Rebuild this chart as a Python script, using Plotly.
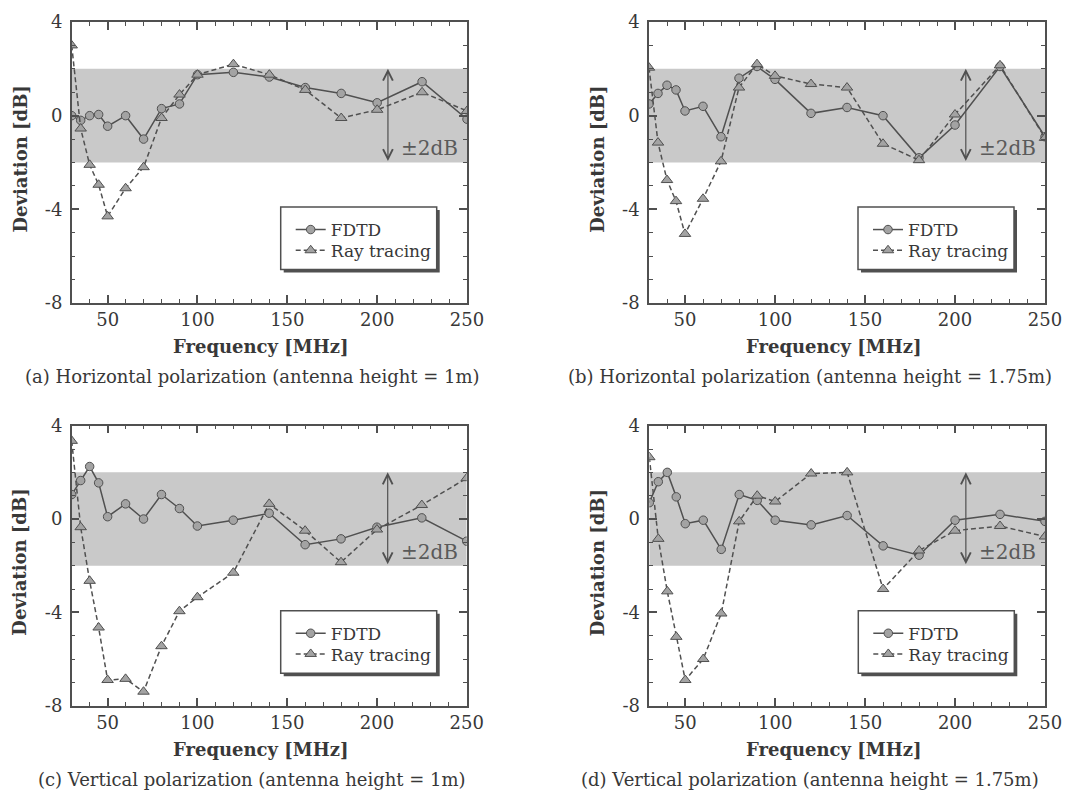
import plotly.graph_objects as go
from plotly.subplots import make_subplots

# ---------------- data ----------------
freq = [30, 35, 40, 45, 50, 60, 70, 80, 90, 100, 120, 140, 160, 180, 200, 225, 250]

fdtd_a = [0.0, -0.2, 0.0, 0.05, -0.45, 0.0, -1.0, 0.3, 0.5, 1.75, 1.85, 1.65, 1.2, 0.95, 0.55, 1.45, -0.15]
ray_a = [3.0, -0.55, -2.1, -2.95, -4.3, -3.1, -2.2, -0.1, 0.9, 1.75, 2.2, 1.75, 1.1, -0.1, 0.25, 1.0, 0.2]

fdtd_b = [0.5, 0.95, 1.3, 1.1, 0.2, 0.4, -0.9, 1.6, 2.1, 1.55, 0.1, 0.35, 0.0, -1.8, -0.4, 2.1, -0.9]
ray_b = [2.05, -1.15, -2.75, -3.65, -5.05, -3.55, -1.95, 1.2, 2.2, 1.7, 1.35, 1.2, -1.2, -1.9, 0.05, 2.15, -0.95]

fdtd_c = [1.05, 1.65, 2.25, 1.55, 0.1, 0.65, 0.0, 1.05, 0.45, -0.3, -0.05, 0.25, -1.1, -0.85, -0.35, 0.05, -0.95]
ray_c = [3.35, -0.35, -2.65, -4.65, -6.9, -6.85, -7.4, -5.45, -3.95, -3.35, -2.3, 0.65, -0.5, -1.85, -0.45, 0.6, 1.75]

fdtd_d = [0.7, 1.6, 2.0, 0.95, -0.2, -0.05, -1.3, 1.05, 0.8, -0.05, -0.25, 0.15, -1.15, -1.55, -0.05, 0.2, -0.1]
ray_d = [2.65, -0.85, -3.1, -5.05, -6.9, -6.0, -4.05, -0.1, 1.0, 0.75, 1.95, 2.0, -3.0, -1.35, -0.5, -0.3, -0.75]

captions = [
    "(a) Horizontal polarization (antenna height = 1m)",
    "(b) Horizontal polarization (antenna height = 1.75m)",
    "(c) Vertical polarization (antenna height = 1m)",
    "(d) Vertical polarization (antenna height = 1.75m)",
]
series_names = ["FDTD", "Ray tracing"]
band_low, band_high = -2, 2
arrow_freq = 206
band_label = "±2dB"
band_label_pos = (229, -1.4)
x_range = [30, 250]
y_range = [-8, 4]
x_ticks = [50, 100, 150, 200, 250]
x_ticktext = ["50", "100", "150", "200", "250"]
y_ticks = [-8, -4, 0, 4]
y_ticktext = ["-8", "-4", "0", "4"]
x_title = "Frequency [MHz]"
y_title = "Deviation [dB]"

# ---------------- style ----------------
W, H = 1080, 792
OFF = 8  # page body margin compensation
DARK = "#505050"
MFILL = "#a3a3a3"
BAND = "#c9c9c9"
TXT = "#383838"
SERIF = "DejaVu Serif, serif"

# pixel geometry of panels (left, right, top, bottom) in page pixels
panels = [
    (71.7, 467.0, 22.0, 303.0),
    (649.0, 1045.0, 22.0, 303.0),
    (71.7, 466.7, 425.7, 705.7),
    (649.3, 1045.0, 425.7, 705.7),
]
data = [(fdtd_a, ray_a), (fdtd_b, ray_b), (fdtd_c, ray_c), (fdtd_d, ray_d)]

fig = make_subplots(rows=2, cols=2)


def px(x):
    return (x - OFF) / W


def py(y):
    return 1 - (y - OFF) / H


shapes = []
annotations = []

for i, ((l, r, t, b), (fd, rt)) in enumerate(zip(panels, data)):
    row, col = i // 2 + 1, i % 2 + 1
    leg1 = "legend" if i == 0 else "legend" + str(2 * i + 1)
    leg2 = "legend" + str(2 * i + 2)
    fig.add_trace(go.Scatter(
        x=freq, y=fd, mode="lines+markers", name=series_names[0],
        line=dict(color=DARK, width=1.5),
        marker=dict(symbol="circle", size=8.5, color=MFILL, line=dict(color=DARK, width=1)),
        legend=leg1, showlegend=True), row=row, col=col)
    fig.add_trace(go.Scatter(
        x=freq, y=rt, mode="lines+markers", name=series_names[1],
        line=dict(color=DARK, width=1.5, dash="5px,3px"),
        marker=dict(symbol="triangle-up", size=10, color=MFILL, line=dict(color=DARK, width=1)),
        legend=leg2, showlegend=True), row=row, col=col)

    sfx = "" if i == 0 else str(i + 1)
    xref, yref = "x" + sfx, "y" + sfx
    fig.layout["xaxis" + sfx].update(domain=[px(l), px(r)])
    fig.layout["yaxis" + sfx].update(domain=[py(b), py(t)])

    # tolerance band
    shapes.append(dict(type="rect", xref=xref, yref=yref, x0=x_range[0], x1=x_range[1],
                       y0=band_low, y1=band_high, fillcolor=BAND, line=dict(width=0), layer="below"))
    # double arrow
    annotations.append(dict(xref=xref, yref=yref, x=arrow_freq, y=band_high, axref=xref, ayref=yref,
                            ax=arrow_freq, ay=band_low, text="", showarrow=True, arrowhead=5,
                            startarrowhead=5, arrowside="end+start", arrowwidth=1.2, arrowsize=1.6,
                            startarrowsize=1.6, arrowcolor=DARK, standoff=0, startstandoff=0))
    annotations.append(dict(xref=xref, yref=yref, x=band_label_pos[0], y=band_label_pos[1],
                            text=band_label, showarrow=False, xanchor="center", yanchor="middle",
                            font=dict(family=SERIF, size=20, color="#5a5a5a")))

    # axis titles and captions
    cx_freq = 260.5 if col == 1 else 833
    cx_cap = 252 if col == 1 else 810
    annotations.append(dict(xref="paper", yref="paper", x=px(cx_freq), y=py(b + 44),
                            xanchor="center", yanchor="middle",
                            text="<b>" + x_title + "</b>",
                            showarrow=False, font=dict(family=SERIF, size=18, color=TXT)))
    annotations.append(dict(xref="paper", yref="paper", x=px(cx_cap), y=py(b + 74),
                            xanchor="center", yanchor="middle", text=captions[i],
                            showarrow=False, font=dict(family=SERIF, size=18, color=TXT)))
    annotations.append(dict(xref="paper", yref="paper", x=px(l - 51.7), y=py((t + b) / 2 - 3),
                            xanchor="center", yanchor="middle",
                            text="<b>" + y_title + "</b>", textangle=-90, showarrow=False,
                            font=dict(family=SERIF, size=18, color=TXT)))

    # legend box with shadow
    lx0, lx1 = l + 209.0, l + 365.0
    ly0, ly1 = t + 185.0, t + 247.5
    shapes.append(dict(type="rect", xref="paper", yref="paper", x0=px(lx0 + 3), x1=px(lx1 + 3),
                       y0=py(ly1 + 3), y1=py(ly0 + 3), fillcolor=DARK, line=dict(width=0), layer="above"))
    shapes.append(dict(type="rect", xref="paper", yref="paper", x0=px(lx0), x1=px(lx1),
                       y0=py(ly1), y1=py(ly0), fillcolor="white", line=dict(color=DARK, width=1.5),
                       layer="above"))
    for leg, cy in ((leg1, t + 208.0), (leg2, t + 228.7)):
        fig.layout[leg] = dict(x=px(lx0 + 10), y=py(cy), xanchor="left", yanchor="middle",
                               bgcolor="rgba(0,0,0,0)", borderwidth=0, tracegroupgap=0,
                               font=dict(family=SERIF, size=17, color=TXT))

axis_common = dict(showline=True, linecolor=DARK, linewidth=1.5, mirror="allticks",
                   ticks="inside", tickcolor=DARK, tickwidth=1.5, ticklen=8,
                   showgrid=False, zeroline=False, automargin=False,
                   tickfont=dict(family=SERIF, size=18, color=TXT))

fig.update_xaxes(range=x_range, tickmode="array", tickvals=x_ticks, ticktext=x_ticktext,
                 minor=dict(ticks="inside", ticklen=4, tickwidth=1.2, tickcolor=DARK, dtick=10, tick0=0,
                            showgrid=False),
                 **axis_common)
fig.update_yaxes(range=y_range, tickmode="array", tickvals=y_ticks, ticktext=y_ticktext,
                 ticklabelstandoff=4,
                 minor=dict(ticks="inside", ticklen=4, tickwidth=1.2, tickcolor=DARK, dtick=1, tick0=0,
                            showgrid=False),
                 **axis_common)

fig.update_layout(width=W, height=H, margin=dict(l=0, r=0, t=0, b=0, pad=0, autoexpand=False),
                  paper_bgcolor="white", plot_bgcolor="white",
                  shapes=shapes, annotations=annotations)

fig.write_html("out.html")
